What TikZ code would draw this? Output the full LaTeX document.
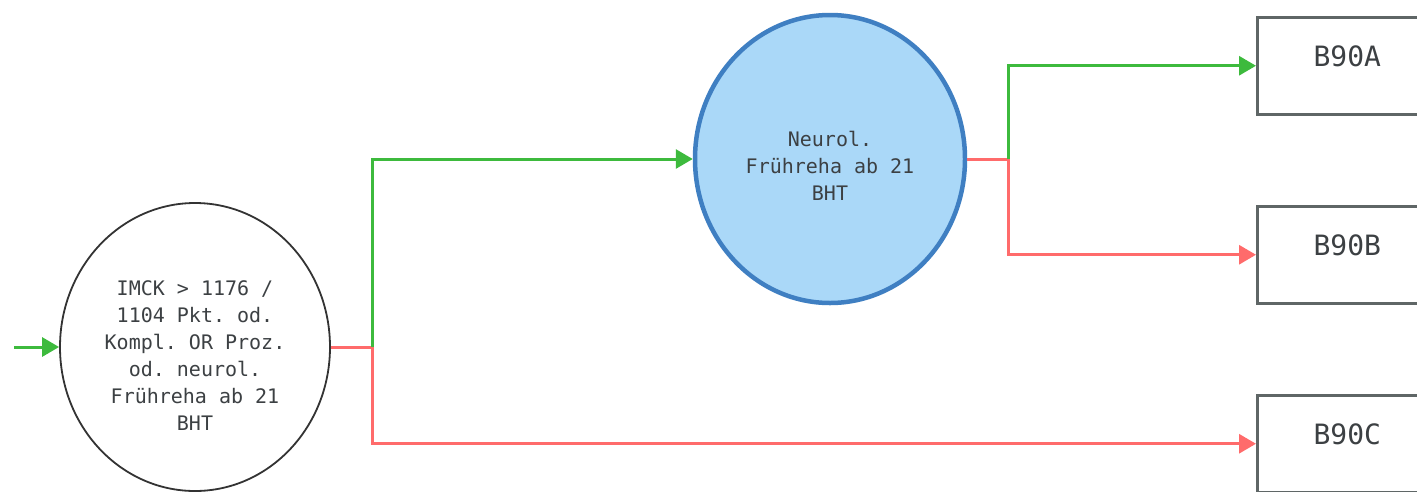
\documentclass[tikz,border=0pt]{standalone}
\usepackage{fontspec}
\setmonofont{DejaVu Sans Mono}
\usetikzlibrary{shapes.geometric,arrows.meta}
\definecolor{okgreen}{HTML}{3DBA3D}
\definecolor{nored}{HTML}{FF6B6B}
\definecolor{bluefill}{HTML}{AAD8F8}
\definecolor{blueedge}{HTML}{3F7FC2}
\definecolor{txtgray}{HTML}{3C4043}
\definecolor{boxedge}{HTML}{5F6666}
% extra height on the first line pushes a text block slightly below centre
\newcommand{\firstline}[1]{\rule{0pt}{#1}}
\tikzset{
  decision/.style={ellipse, draw=black!80, line width=1.8pt, fill=white,
    minimum width=270pt, minimum height=288pt, inner sep=0pt,
    align=center, text=txtgray, font=\ttfamily\fontsize{20}{27}\selectfont},
  current/.style={decision, draw=blueedge, line width=4.5pt, fill=bluefill},
  result/.style={rectangle, draw=boxedge, line width=2.5pt, fill=white,
    inner sep=0pt, text width=180pt, align=center,
    text height=49pt, text depth=48pt, text=txtgray,
    font=\ttfamily\fontsize{28}{32}\selectfont},
  yes/.style={draw=okgreen, line width=3pt},
  no/.style={draw=nored, line width=3pt},
  tip/.style={-{Triangle[length=17pt,width=19pt]}},
}
\begin{document}
\begin{tikzpicture}[x=1pt,y=-1pt]
  \useasboundingbox (0,0) rectangle (1417,491);
  \clip (0,0) rectangle (1417,491);

  % decisions
  \node[decision] (imck) at (195,347)
    {\firstline{31pt}IMCK > 1176 /\\1104 Pkt. od.\\Kompl. OR Proz.\\od. neurol.\\Frühreha ab 21\\BHT};
  \node[current] (neuro) at (830,159) {\firstline{28pt}Neurol.\\Frühreha ab 21\\BHT};

  % outcomes
  \node[result, anchor=north west] (a) at (1256,16) {B90A};
  \node[result, anchor=north west] (b) at (1256,205) {B90B};
  \node[result, anchor=north west] (c) at (1256,394) {B90C};

  % entry
  \coordinate (start) at (14,347);
  \draw[yes, tip] (start) -- (imck.west);

  % branches of the first decision
  \coordinate (j1) at (372,347);
  \draw[no] (imck.east) -- (j1);
  \draw[yes, tip] (j1) |- (neuro.west);
  \draw[no, tip] (j1) |- (c.west);

  % branches of the second decision
  \coordinate (j2) at (1008,159);
  \draw[no] (neuro.east) -- (j2);
  \draw[yes, tip] (j2) |- (a.west);
  \draw[no, tip] (j2) |- (b.west);
\end{tikzpicture}
\end{document}
